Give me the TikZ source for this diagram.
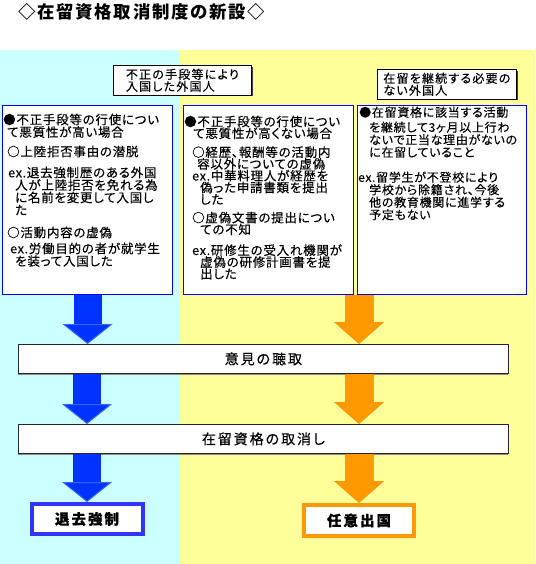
\documentclass[tikz,border=0pt]{standalone}
\usepackage{fontspec}
\setmainfont{Noto Sans CJK JP}
\newfontfamily\jpfont[LetterSpace=6,FakeBold=0.3,RawFeature=+palt]{Noto Sans CJK JP}
\newfontfamily\jptag[LetterSpace=10,FakeBold=0.3,RawFeature=+palt]{Noto Sans CJK JP}
\newfontfamily\jpwide[LetterSpace=14,FakeBold=0.3,RawFeature=+palt]{Noto Sans CJK JP}
\newfontfamily\jptitle[LetterSpace=10,RawFeature=+palt]{Noto Sans CJK JP}
\usetikzlibrary{positioning,arrows.meta,shadows}

\definecolor{cyanbg}{HTML}{CCFFFF}
\definecolor{yellowbg}{HTML}{FFFF99}
\definecolor{caseblue}{HTML}{0000EE}
\definecolor{arrowblue}{HTML}{0033FF}
\definecolor{arrowedge}{HTML}{3366FF}
\definecolor{arroworange}{HTML}{FF9900}
\definecolor{exitblue}{HTML}{3333FF}

\tikzset{
  tagbox/.style={rectangle,draw=black,fill=white,line width=0.8pt,anchor=north west,
    drop shadow={shadow xshift=1.2pt,shadow yshift=-1.2pt,fill=black!75,opacity=1},
    align=left,font=\jptag\fontsize{12}{12}\selectfont},
  casebox/.style={rectangle,draw=caseblue,fill=white,line width=1.2pt,anchor=north west,
    minimum height=189pt},
  casetext/.style={inner sep=0pt,align=left,anchor=north west,
    font=\jpfont\fontsize{12.5}{12.5}\selectfont},
  stagebox/.style={rectangle,draw=black!85,fill=white,line width=0.8pt,anchor=north west,
    drop shadow={shadow xshift=0pt,shadow yshift=-1.5pt,fill=black!45,opacity=1},
    minimum width=490pt,minimum height=29pt,font=\jpwide\fontsize{14}{14}\selectfont},
  endbox/.style={rectangle,fill=white,line width=4pt,minimum height=30pt,
    font=\jpwide\bfseries\fontsize{14.5}{14.5}\selectfont},
  bluearrow/.style={draw=arrowblue,line width=28pt,
    -{Triangle[width=50pt,length=20pt,line width=1pt,fill=arrowblue,color=arrowedge]}},
  orangearrow/.style={draw=arroworange,line width=29pt,
    -{Triangle[width=50pt,length=22pt,line width=1pt,fill=arroworange,color=arroworange]}}
}

\begin{document}
\begin{tikzpicture}[x=1pt,y=-1pt]
  \useasboundingbox (0,0) rectangle (535,564);
  % two backgrounds
  \fill[cyanbg] (0,50) rectangle (180,564);
  \fill[yellowbg] (180,50) rectangle (535,564);

  \node[anchor=west,inner sep=0pt,font=\jptitle\bfseries\fontsize{17.4}{18}\selectfont]
    (title) at (18,12) {◇在留資格取消制度の新設◇};

  % who is concerned
  \node[tagbox,minimum width=138pt,minimum height=29pt] (tag1) at (113,65)
    {不正の手段等により\\入国した外国人};
  \node[tagbox,minimum width=139pt,minimum height=26pt,inner xsep=1pt] (tag2) at (377,69)
    {在留を継続する必要の\\ない外国人};

  % the three cases
  \node[casebox,minimum width=170pt] (b1) at (2,105) {};
  \node[casebox,minimum width=170pt] (b2) at (183,105) {};
  \node[casebox,minimum width=169pt] (b3) at (357,105) {};

  \node[casetext,below right=8.5pt and 1pt of b1.north west] (t1) {%
    ●不正手段等の行使につい\\
    \hspace*{4pt}て悪質性が高い場合\\[7pt]
    \hspace*{4pt}○上陸拒否事由の潜脱\\[8.5pt]
    \hspace*{5pt}ex.退去強制歴のある外国\\
    \hspace*{12pt}人が上陸拒否を免れる為\\
    \hspace*{12pt}に名前を変更して入国し\\
    \hspace*{12pt}た\\[10pt]
    \hspace*{4pt}○活動内容の虚偽\\[3.5pt]
    \hspace*{7pt}ex.労働目的の者が就学生\\
    \hspace*{12pt}を装って入国した};
  \node[casetext,font=\jpfont\fontsize{12.5}{11.8}\selectfont,
        below right=10.5pt and 1pt of b2.north west] (t2) {%
    ●不正手段等の行使につい\\
    \hspace*{9pt}て悪質性が高くない場合\\[7pt]
    \hspace*{8pt}○経歴、報酬等の活動内\\
    \hspace*{13pt}容以外についての虚偽\\
    \hspace*{8pt}ex.中華料理人が経歴を\\
    \hspace*{16pt}偽った申請書類を提出\\
    \hspace*{16pt}した\\[6.5pt]
    \hspace*{8pt}○虚偽文書の提出につい\\
    \hspace*{16pt}ての不知\\[9pt]
    \hspace*{8pt}ex.研修生の受入れ機関が\\
    \hspace*{16pt}虚偽の研修計画書を提\\
    \hspace*{16pt}出した};
  \node[casetext,font=\jpfont\fontsize{12}{12.5}\selectfont,
        below right=1.5pt and 1pt of b3.north west] (t3) {%
    \hspace*{1pt}●在留資格に該当する活動\\[2.5pt]
    \hspace*{11pt}を継続して3ヶ月以上行わ\\
    \hspace*{11pt}ないで正当な理由がないの\\
    \hspace*{11pt}に在留していること\\[12.5pt]
    ex.留学生が不登校により\\
    \hspace*{11pt}学校から除籍され、今後\\
    \hspace*{11pt}他の教育機関に進学する\\
    \hspace*{11pt}予定もない};

  % procedure
  \node[stagebox] (w1) at (18,344) {意見の聴取};
  \node[stagebox] (w2) at (18,424) {在留資格の取消し};

  \node[endbox,draw=exitblue,minimum width=111pt] (f1) at (87,519) {退去強制};
  \node[endbox,draw=arroworange,minimum width=110pt,minimum height=31pt] (f2) at (359,520.5) {任意出国};

  \draw[bluearrow] (b1.south) -- (b1.south |- w1.north);
  \draw[bluearrow] (f1 |- w1.south) -- (f1 |- w2.north);
  \draw[bluearrow] (f1 |- w2.south) -- (f1.north);
  \draw[orangearrow] (f2 |- b2.south) -- (f2 |- w1.north);
  \draw[orangearrow] (f2 |- w1.south) -- (f2 |- w2.north);
  \draw[orangearrow] (f2 |- w2.south) -- (f2.north);
\end{tikzpicture}
\end{document}
